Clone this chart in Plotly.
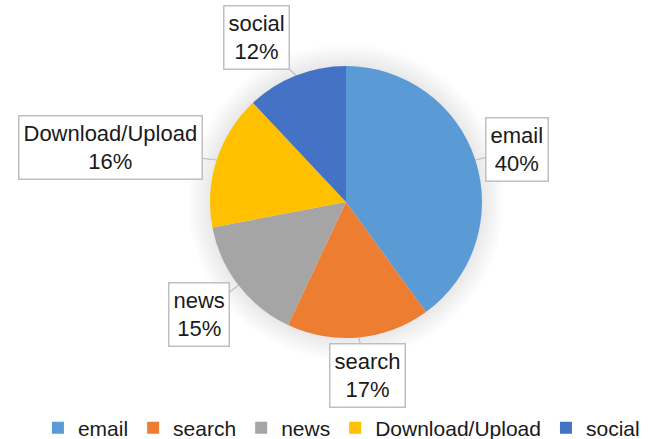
import math
import plotly.graph_objects as go

categories = ["email", "search", "news", "Download/Upload", "social"]
values = [40, 17, 15, 16, 12]
colors = ["#5B9BD5", "#ED7D31", "#A5A5A5", "#FFC000", "#4472C4"]
# label box offsets from the slice edge (pixels)
label_dx = [42, 9, -40, -106, -39]
label_dy = [-10, 38, 29, -12, -38]

W, H = 654, 439
cx, cy, R = 346, 202, 136
FONT = "Liberation Sans"

fig = go.Figure()
fig.add_trace(go.Pie(
    labels=categories, values=values, sort=False, direction="clockwise",
    rotation=0, marker=dict(colors=colors, line=dict(width=0)),
    textinfo="none", hoverinfo="label+percent",
    domain=dict(x=[(cx - R) / W, (cx + R) / W], y=[(H - cy - R) / H, (H - cy + R) / H]),
))

# soft glow around the pie
shapes = []
for k in range(1, 24):
    r = R + k
    shapes.append(dict(type="circle", xref="paper", yref="paper",
                       x0=(cx - r) / W, x1=(cx + r) / W,
                       y0=(H - cy - r) / H, y1=(H - cy + r) / H,
                       fillcolor="rgba(0,0,0,0.0055)", line=dict(width=0), layer="below"))

total = sum(values)
annotations = []
cum = 0
for i, (c, v) in enumerate(zip(categories, values)):
    mid = (cum + v / 2) / total * 2 * math.pi
    cum += v
    px = cx + R * math.sin(mid)
    py = cy - R * math.cos(mid)
    annotations.append(dict(
        x=px / W, y=1 - py / H, xref="paper", yref="paper",
        text=f"{c}<br>{round(v / total * 100)}%",
        showarrow=True, arrowhead=0, arrowwidth=1.2, arrowcolor="#bfbfbf",
        ax=label_dx[i], ay=label_dy[i],
        font=dict(family=FONT, size=22, color="#1a1a1a"),
        bgcolor="white", bordercolor="#bfbfbf", borderwidth=1.5, borderpad=4,
    ))

fig.update_layout(
    width=W, height=H, margin=dict(l=0, r=0, t=0, b=0, autoexpand=False),
    paper_bgcolor="white", plot_bgcolor="white",
    shapes=shapes, annotations=annotations,
    showlegend=True,
    legend=dict(orientation="h", x=0.058, xanchor="left", y=11 / H, yanchor="middle",
                font=dict(family=FONT, size=21, color="#1a1a1a"),
                itemwidth=30, tracegroupgap=0),
)
fig.write_html("out.html", config={"displayModeBar": False},
               post_script="document.body.style.margin='0';document.body.style.overflow='hidden';")
